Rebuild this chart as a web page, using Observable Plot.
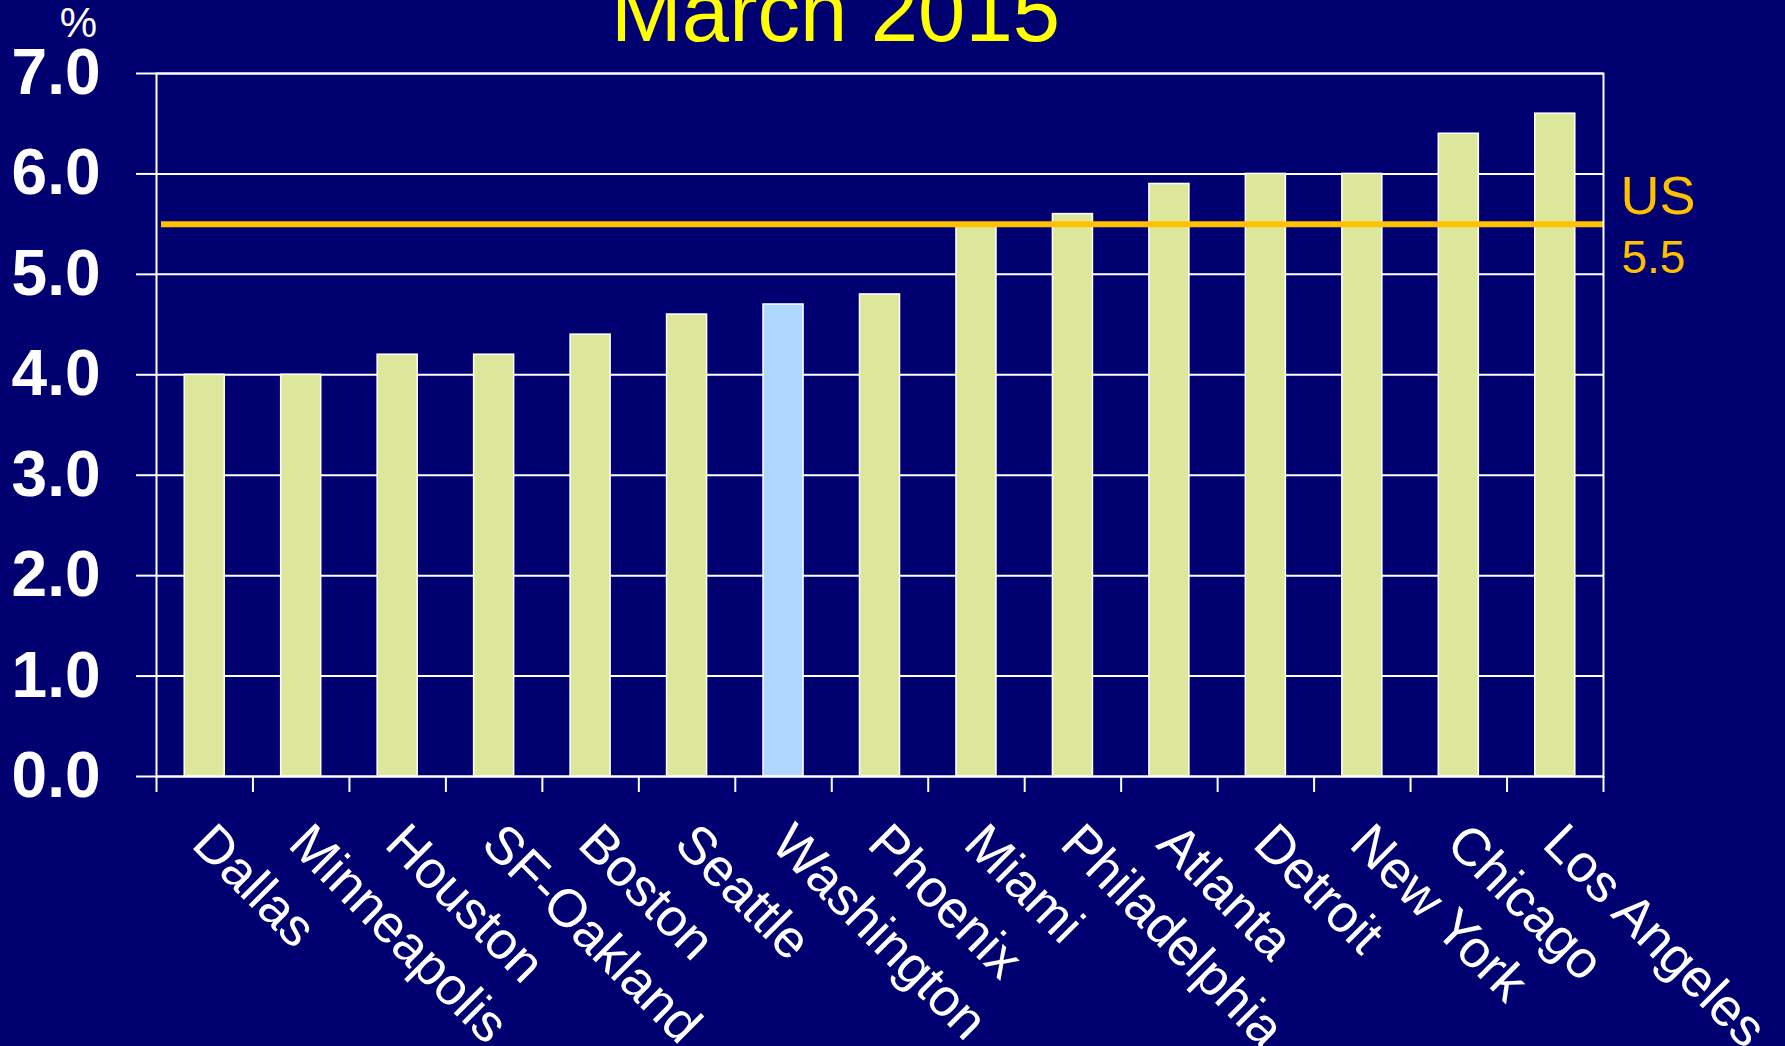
<!DOCTYPE html>
<html>
<head>
<meta charset="utf-8">
<script src="https://cdn.jsdelivr.net/npm/d3@7"></script>
<script src="https://cdn.jsdelivr.net/npm/@observablehq/plot@0.6"></script>
<style>
  html, body { margin: 0; padding: 0; background: #000070; overflow: hidden; }
  #chart svg { display: block; max-width: none; }
</style>
</head>
<body>
<div id="chart"></div>
<script>
const title = "March 2015";
const unitLabel = "%";
const cities = ["Dallas", "Minneapolis", "Houston", "SF-Oakland", "Boston", "Seattle", "Washington", "Phoenix", "Miami", "Philadelphia", "Atlanta", "Detroit", "New York", "Chicago", "Los Angeles"];
const rates = [4.0, 4.0, 4.2, 4.2, 4.4, 4.6, 4.7, 4.8, 5.5, 5.6, 5.9, 6.0, 6.0, 6.4, 6.6];
const highlight = "Washington";
const usLabel = "US";
const usRate = 5.5;
const yTicks = [0, 1, 2, 3, 4, 5, 6, 7];

const data = cities.map((c, i) => ({city: c, rate: rates[i]}));

const W = 1785, H = 1046;
const mT = 73, mB = 270, mL = 156, mR = 182;
const step = (W - mL - mR) / cities.length;
const plotH = H - mT - mB;

const green = "#DCE79C", blue = "#AFD6FF", orange = "#FFC000";

const chart = Plot.plot({
  width: W,
  height: H,
  marginTop: mT,
  marginBottom: mB,
  marginLeft: mL,
  marginRight: mR,
  style: {background: "#000070", color: "white", fontFamily: "'Liberation Sans', Arial, sans-serif", overflow: "visible"},
  x: {type: "band", domain: cities, paddingInner: 0.585, paddingOuter: 0.2925, round: false, axis: null},
  y: {domain: [0, 7], axis: null},
  marks: [
    Plot.ruleY(yTicks, {stroke: "white", strokeWidth: 2}),
    Plot.barY(data, {x: "city", y: "rate", fill: d => d.city === highlight ? blue : green, stroke: "white", strokeWidth: 1.5}),
    Plot.ruleY([usRate], {stroke: orange, strokeWidth: 6, insetLeft: 5}),
    Plot.frame({stroke: "white", strokeWidth: 2}),
    Plot.axisY({ticks: yTicks, tickFormat: d => d.toFixed(1), tickSize: 20, tickPadding: 36, fontSize: 64, fontWeight: "bold", strokeWidth: 2, label: null}),
    Plot.ruleX(cities, {x: d => d, dx: -step / 2, insetTop: plotH, insetBottom: -16, stroke: "white", strokeWidth: 2}),
    Plot.ruleX([cities[cities.length - 1]], {x: d => d, dx: step / 2, insetTop: plotH, insetBottom: -16, stroke: "white", strokeWidth: 2}),
    Plot.text(cities, {x: d => d, text: d => d, frameAnchor: "bottom", rotate: 45, textAnchor: "start", lineAnchor: "top", dx: 12, dy: 43, fontSize: 53, fill: "white"}),
    Plot.text([usRate], {y: d => d, text: () => usLabel, frameAnchor: "right", textAnchor: "start", lineAnchor: "middle", dx: 17, dy: -27, fontSize: 54, fill: orange}),
    Plot.text([usRate], {y: d => d, text: d => d.toFixed(1), frameAnchor: "right", textAnchor: "start", lineAnchor: "middle", dx: 18, dy: 34, fontSize: 46, fill: orange}),
    Plot.text([unitLabel], {frameAnchor: "top-left", text: d => d, textAnchor: "middle", lineAnchor: "middle", dx: -78, dy: -50, fontSize: 42, fill: "white"}),
    Plot.text([title], {frameAnchor: "top", text: d => d, textAnchor: "middle", lineAnchor: "middle", dx: -44.5, dy: -59.5, fontSize: 85, fill: "#FFFF00"})
  ]
});
document.getElementById("chart").appendChild(chart);
</script>
</body>
</html>
